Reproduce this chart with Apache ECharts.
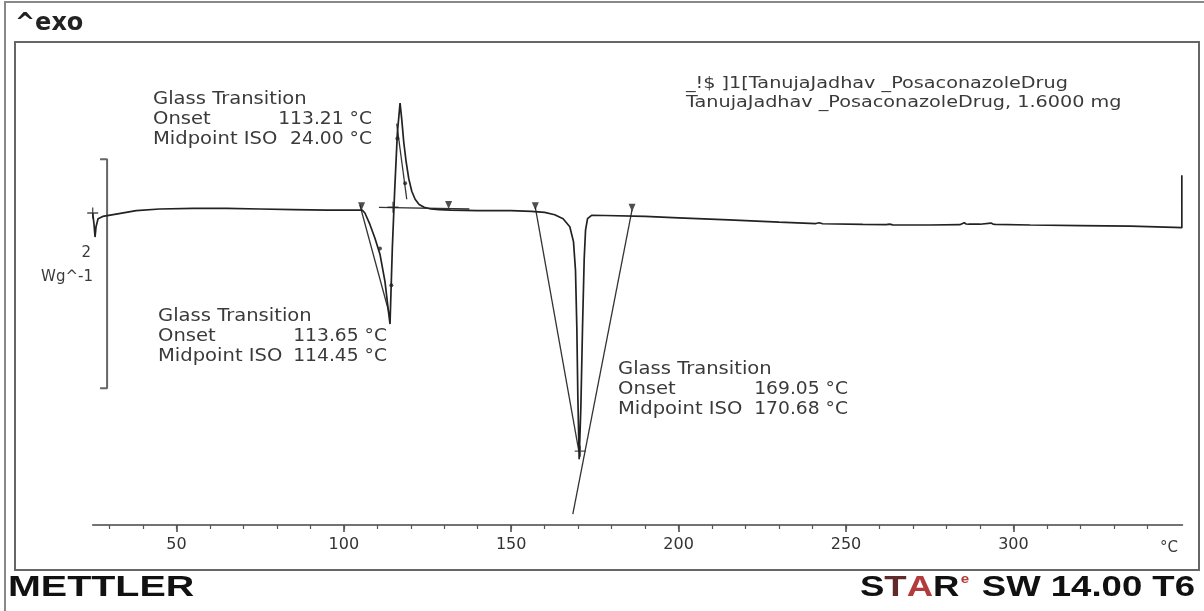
<!DOCTYPE html>
<html>
<head>
<meta charset="utf-8">
<script src="https://cdn.jsdelivr.net/npm/echarts@6/dist/echarts.min.js"></script>
<style>
  html, body { margin: 0; padding: 0; background: #fff; }
  #chart { width: 1204px; height: 611px; }
</style>
</head>
<body>
<div id="chart"></div>
<script>
// DSC heating curve: temperature (°C) against normalised heat flow (W/g), exo up
const curveT = [25, 25.4, 25.7, 26.0, 26.6, 28, 32, 38, 45, 55, 65, 75, 85, 95, 102,
  105.5, 106.3, 107.8, 109.3, 110.8, 112.3, 113.3, 113.8, 114.5, 115.2, 116.0, 116.8,
  117.3, 117.9, 118.6, 119.4, 120.3, 121.3, 122.5, 124.0, 126, 128.5, 132, 140, 150, 156, 160, 163, 165.5,
  167.5, 168.6, 169.2, 169.6, 169.9, 170.3, 170.8, 171.3, 171.8, 172.2, 172.8, 174,
  178, 190, 200, 215, 230, 241, 242, 243, 255, 262, 263, 264, 275, 284, 285.3, 285.9, 286.6, 290,
  293.3, 293.9, 294.6, 305, 320, 335, 348, 350.3, 350.3];
const curveW = [0.0, -0.10, -0.21, -0.12, -0.05, -0.03, -0.01, 0.02, 0.035, 0.04, 0.04, 0.035, 0.03, 0.025, 0.025,
  0.025, 0.0, -0.10, -0.22, -0.36, -0.6, -0.85, -0.97, -0.3, 0.2, 0.7, 0.96,
  0.82, 0.62, 0.45, 0.30, 0.19, 0.12, 0.075, 0.05, 0.035, 0.03, 0.025, 0.02, 0.02, 0.015, 0.005, -0.015, -0.05,
  -0.12, -0.25, -0.5, -1.0, -1.6, -2.15, -1.7, -1.0, -0.4, -0.15, -0.05, -0.02,
  -0.022, -0.03, -0.042, -0.06, -0.08, -0.092, -0.085, -0.094, -0.1, -0.101, -0.097, -0.103, -0.105, -0.102, -0.085, -0.096, -0.098, -0.098,
  -0.088, -0.097, -0.1, -0.105, -0.11, -0.115, -0.125, -0.128, 0.33];

// Evaluation construction lines (tangents and baselines), each [T, W] pairs
const dipTangent = [[104.8, 0.07], [113.6, -0.88]];
const dipBaseline = [[110.5, 0.05], [137.5, 0.035]];
const exoTangent = [[115.8, 0.78], [118.8, 0.12]];
const peakLeftTangent = [[157.2, 0.05], [170.2, -2.08]];
const peakRightTangent = [[186.1, 0.03], [168.4, -2.63]];

// Evaluation markers
const plusT = [25, 114.7, 170.6];
const plusW = [0.0, 0.05, -2.08];
const limitT = [105.3, 131.3, 157.2, 186.1];
const limitW = [0.06, 0.07, 0.06, 0.045];
const dotT = [110.8, 114.2, 116.0, 118.3];
const dotW = [-0.31, -0.63, 0.65, 0.26];

// 2 W/g scale bar
const scaleT = [27.2, 29.3, 29.3, 27.2];
const scaleW = [0.47, 0.47, -1.53, -1.53];

// Temperature axis
const majorTicks = [50, 100, 150, 200, 250, 300];
const minorTicks = [];
for (let t = 30; t <= 340; t += 10) minorTicks.push(t);

// Evaluation results
const evalBlocks = [
  { left: 153, top: 100, valueRight: 372, rows: [['Glass Transition', ''], ['Onset', '113.21 °C'], ['Midpoint ISO', '24.00 °C']] },
  { left: 158, top: 317, valueRight: 387, rows: [['Glass Transition', ''], ['Onset', '113.65 °C'], ['Midpoint ISO', '114.45 °C']] },
  { left: 618, top: 370, valueRight: 848, rows: [['Glass Transition', ''], ['Onset', '169.05 °C'], ['Midpoint ISO', '170.68 °C']] }
];
const sampleLines = ['_!$ ]1[TanujaJadhav _PosaconazoleDrug', 'TanujaJadhav _PosaconazoleDrug, 1.6000 mg'];

const zip = (a, b) => a.map((v, i) => [v, b[i]]);
const ink = '#222';
const txt = '#3a3a3a';
const font = 'DejaVu Sans, Verdana, sans-serif';

function segment(data) {
  return {
    type: 'line', data: data, showSymbol: false, silent: true, clip: false,
    lineStyle: { color: '#333', width: 1.3 }, z: 3
  };
}

const graphics = [
  { type: 'rect', shape: { x: 5, y: 2, width: 1200, height: 612 }, style: { fill: null, stroke: '#888', lineWidth: 2 }, z: 0 },
  { type: 'rect', shape: { x: 15, y: 42, width: 1184, height: 528 }, style: { fill: null, stroke: '#666', lineWidth: 2 }, z: 0 },
  { type: 'text', x: 15, y: 24, style: { text: '^exo', font: 'bold 24px ' + font, fill: ink, textAlign: 'left', textVerticalAlign: 'middle' } },
  { type: 'text', x: 91, y: 253, style: { text: '2', font: '15px ' + font, fill: txt, textAlign: 'right', textVerticalAlign: 'middle' } },
  { type: 'text', x: 93, y: 277, style: { text: 'Wg^-1', font: '15px ' + font, fill: txt, textAlign: 'right', textVerticalAlign: 'middle' } },
  { type: 'text', x: 1169, y: 548, style: { text: '°C', font: '15px ' + font, fill: txt, textAlign: 'center', textVerticalAlign: 'middle' } },
  { type: 'text', x: 8, y: 588, scaleX: 1.36, style: { text: 'METTLER', font: 'bold 29px Liberation Sans, Arial, sans-serif', fill: '#111', textAlign: 'left', textVerticalAlign: 'middle' } },
  {
    type: 'text', x: 1195, y: 588, scaleX: 1.26,
    style: {
      text: '{k|S}{t|T}{a|A}{k|R}{s|e}{k| SW 14.00 T6}',
      textAlign: 'right', textVerticalAlign: 'middle',
      rich: {
        k: { fontSize: 29, fontWeight: 'bold', fontFamily: 'Liberation Sans', fill: '#111' },
        t: { fontSize: 29, fontWeight: 'bold', fontFamily: 'Liberation Sans', fill: '#5e2a2a' },
        a: { fontSize: 29, fontWeight: 'bold', fontFamily: 'Liberation Sans', fill: '#b33b3b' },
        s: { fontSize: 12, fontWeight: 'bold', fontFamily: 'Liberation Sans', fill: '#b33b3b', verticalAlign: 'top', padding: [0, 2, 0, 1] }
      }
    }
  }
];

sampleLines.forEach((line, i) => {
  graphics.push({ type: 'text', x: 686, y: 84 + i * 19, scaleX: 1.2,
    style: { text: line, font: '16px ' + font, fill: txt, textAlign: 'left', textVerticalAlign: 'middle' } });
});

evalBlocks.forEach(b => {
  b.rows.forEach((r, i) => {
    const y = b.top + i * 20;
    graphics.push({ type: 'text', x: b.left, y: y, scaleX: 1.15,
      style: { text: r[0], font: '17px ' + font, fill: txt, textAlign: 'left', textVerticalAlign: 'middle' } });
    if (r[1]) {
      graphics.push({ type: 'text', x: b.valueRight, y: y, scaleX: 1.1,
        style: { text: r[1], font: '17px ' + font, fill: txt, textAlign: 'right', textVerticalAlign: 'middle' } });
    }
  });
});

const chart = echarts.init(document.getElementById('chart'), null, { renderer: 'canvas' });
chart.setOption({
  animation: false,
  backgroundColor: '#fff',
  grid: { left: 92.7, right: 21.5, top: 40, bottom: 86, containLabel: false },
  xAxis: [
    {
      type: 'value', min: 25, max: 350.5, position: 'bottom',
      axisLine: { show: true, onZero: false, lineStyle: { color: '#444', width: 1.5 } },
      axisTick: { show: true, customValues: majorTicks, length: 7, lineStyle: { color: '#444', width: 1.5 } },
      axisLabel: { customValues: majorTicks, fontSize: 16, color: '#333', margin: 12, fontFamily: font },
      splitLine: { show: false }
    },
    {
      type: 'value', min: 25, max: 350.5, position: 'bottom',
      axisLine: { show: false, onZero: false },
      axisTick: { show: true, customValues: minorTicks, length: 4, lineStyle: { color: '#555', width: 1.2 } },
      axisLabel: { show: false },
      splitLine: { show: false }
    }
  ],
  yAxis: { type: 'value', min: -2.725, max: 1.511, show: false },
  series: [
    {
      type: 'line', name: 'Heat flow', data: zip(curveT, curveW), showSymbol: false, clip: false,
      lineStyle: { color: ink, width: 1.7 }, z: 4
    },
    segment(dipTangent),
    segment(dipBaseline),
    segment(exoTangent),
    segment(peakLeftTangent),
    segment(peakRightTangent),
    {
      type: 'line', data: zip(scaleT, scaleW), showSymbol: false, clip: false,
      lineStyle: { color: '#666', width: 2 }, z: 2
    },
    {
      type: 'scatter', data: zip(plusT, plusW), clip: false,
      symbol: 'path://M0,4.4H10V5.6H0Z M4.4,0H5.6V10H4.4Z', symbolSize: 11,
      itemStyle: { color: ink }, z: 5
    },
    {
      type: 'scatter', data: zip(limitT, limitW), clip: false,
      symbol: 'triangle', symbolRotate: 180, symbolSize: [7, 8],
      itemStyle: { color: ink }, z: 5
    },
    {
      type: 'scatter', data: zip(dotT, dotW), clip: false,
      symbol: 'circle', symbolSize: 4,
      itemStyle: { color: ink }, z: 5
    }
  ],
  graphic: { elements: graphics }
});
</script>
</body>
</html>
